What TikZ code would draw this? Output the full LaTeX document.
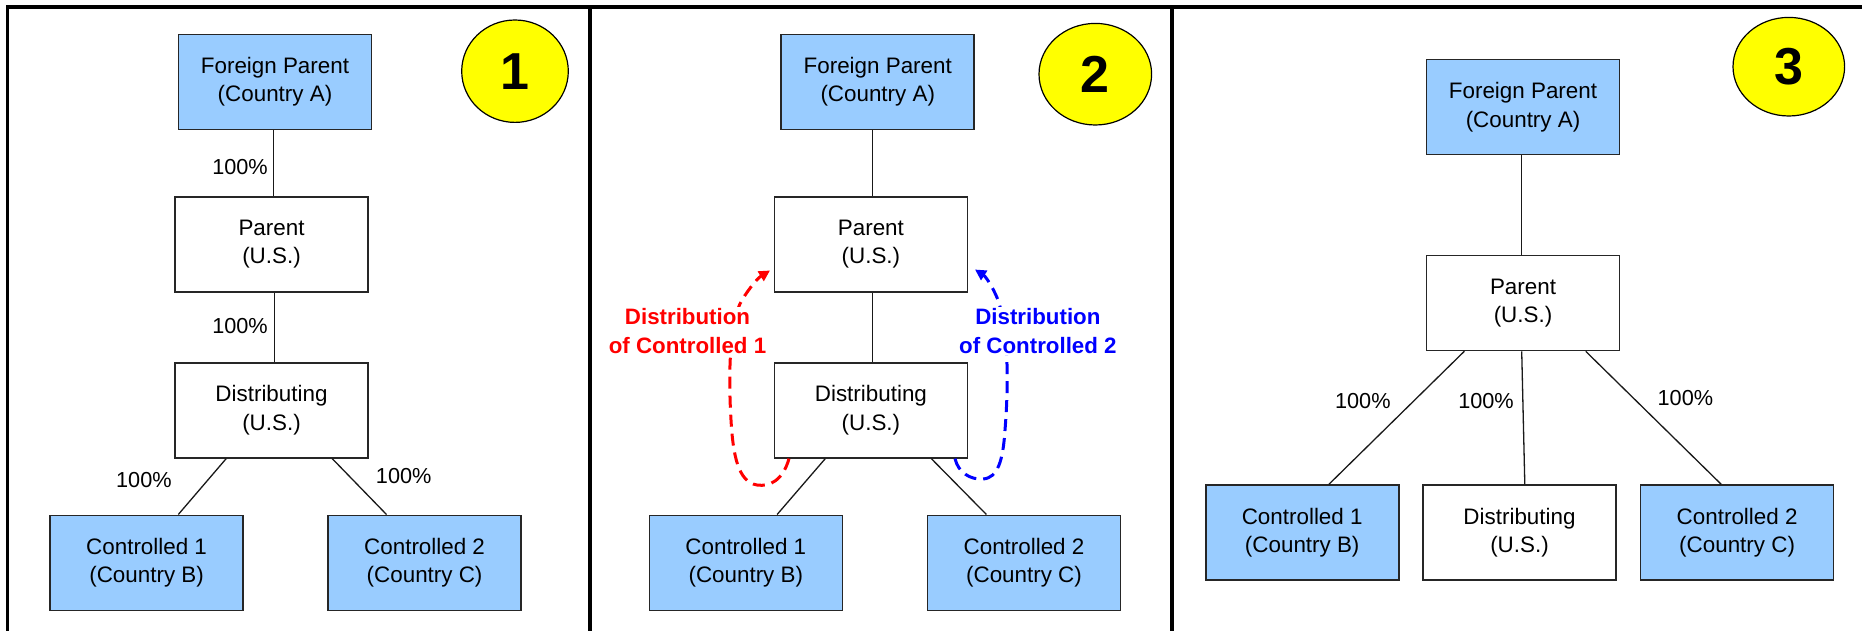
\documentclass[tikz,border=0pt]{standalone}
\usepackage{fontspec}
\setmainfont{Liberation Sans}
\usetikzlibrary{shapes.geometric,arrows.meta}
\definecolor{boxblue}{HTML}{99CCFF}
\definecolor{numyellow}{HTML}{FFFF00}
\definecolor{distred}{HTML}{FF0000}
\definecolor{distblue}{HTML}{0000FF}
\tikzset{
  ent/.style={draw=black!85, line width=1.6pt, minimum width=193pt, minimum height=95pt,
    inner sep=0pt, align=center, font=\fontsize{22.4}{28.2}\selectfont},
  bluebox/.style={ent, fill=boxblue},
  whitebox/.style={ent, fill=white},
  num/.style={ellipse, draw=black, line width=1.2pt, fill=numyellow, inner sep=0pt,
    font=\fontsize{52}{52}\selectfont\bfseries},
  link/.style={line width=1.3pt, black!90},
  pct/.style={font=\fontsize{21.7}{26}\selectfont, inner sep=0pt},
  frame/.style={line width=3.5pt, black},
  distarrow/.style={line width=3pt, dash pattern=on 12pt off 7pt,
    -{Triangle[length=11pt,width=11pt]}},
  distlabel/.style={font=\fontsize{22.3}{29.3}\selectfont\bfseries, align=center,
    fill=white, inner sep=1pt},
}
\begin{document}
\begin{tikzpicture}[x=1pt,y=-1pt]
\useasboundingbox (0,0) rectangle (1862,631);
\fill[white] (0,0) rectangle (1862,631);
% frames
\draw[frame] (7.7,631) -- (7.7,7) -- (1862,7);
\draw[frame] (590,7) -- (590,631);
\draw[frame] (1172,7) -- (1172,631);

% ---------- Panel 1 ----------
\node[bluebox] (fp1) at (275,82) {Foreign Parent\\(Country A)};
\node[whitebox] (p1) at (271.5,244.5) {Parent\\(U.S.)};
\node[whitebox] (d1) at (271.5,410.3) {Distributing\\(U.S.)};
\node[bluebox] (ca1) at (146.6,562.8) {Controlled 1\\(Country B)};
\node[bluebox] (cb1) at (424.6,562.8) {Controlled 2\\(Country C)};
\node[num, minimum width=106.6pt, minimum height=102.4pt] (n1) at (515,71.2) {1};
\draw[link] (fp1.south -| 273.5,0) -- (p1.north -| 273.5,0);
\draw[link] (p1.south -| 274.4,0) -- (d1.north -| 274.4,0);
\coordinate (d1l) at (226.2,458);
\coordinate (d1r) at (332.2,458);
\draw[link] (d1.south -| d1l) -- (ca1.north -| 178.3,0);
\draw[link] (d1.south -| d1r) -- (cb1.north -| 386.5,0);
\node[pct] (l1a) at (240,167) {100\%};
\node[pct] (l1b) at (240,326) {100\%};
\node[pct] (l1c) at (143.9,479.7) {100\%};
\node[pct] (l1d) at (403.7,476) {100\%};

% ---------- Panel 2 ----------
\node[bluebox] (fp2) at (877.75,82) {Foreign Parent\\(Country A)};
\node[whitebox] (p2) at (870.9,244.5) {Parent\\(U.S.)};
\node[whitebox] (d2) at (870.9,410.3) {Distributing\\(U.S.)};
\node[bluebox] (ca2) at (745.8,562.8) {Controlled 1\\(Country B)};
\node[bluebox] (cb2) at (1024,562.8) {Controlled 2\\(Country C)};
\node[num, minimum width=112.6pt, minimum height=101.6pt] (n2) at (1095.3,74.2) {2};
\draw[link] (fp2.south -| 872.8,0) -- (p2.north -| 872.8,0);
\draw[link] (p2.south -| 872.8,0) -- (d2.north -| 872.8,0);
\draw[link] (d2.south -| 825.3,0) -- (ca2.north -| 777.1,0);
\draw[link] (d2.south -| 931.3,0) -- (cb2.north -| 986.4,0);
% distribution arrows
\coordinate (rtip) at (770,270.5);
\coordinate (btip) at (975,269.5);
\draw[distarrow, distred] (d2.south -| 789,0) .. controls (783,480) and (770,487) .. (757,485)
  .. controls (738,482) and (733,455) .. (731,420)
  .. controls (728,370) and (730,320) .. (742,300)
  .. controls (750,287) and (758,278) .. (rtip);
\draw[distarrow, distblue] (d2.south -| 955,0) .. controls (958,472) and (970,480) .. (983,479)
  .. controls (998,478) and (1003,460) .. (1005,430)
  .. controls (1009,380) and (1008,330) .. (998,300)
  .. controls (992,285) and (985,276) .. (btip);
\node[distlabel, text=distred] (t2a) at (687.5,331) {Distribution\\of Controlled 1};
\node[distlabel, text=distblue] (t2b) at (1037.9,331) {Distribution\\of Controlled 2};

% ---------- Panel 3 ----------
\node[bluebox] (fp3) at (1523,107.2) {Foreign Parent\\(Country A)};
\node[whitebox] (p3) at (1523,303) {Parent\\(U.S.)};
\node[bluebox] (ca3) at (1302.2,532.6) {Controlled 1\\(Country B)};
\node[whitebox] (d3) at (1519.5,532.6) {Distributing\\(U.S.)};
\node[bluebox] (cb3) at (1737.1,532.6) {Controlled 2\\(Country C)};
\node[num, minimum width=111.6pt, minimum height=98.6pt] (n3) at (1788.8,66.7) {3};
\draw[link] (fp3.south -| 1521.7,0) -- (p3.north -| 1521.7,0);
\draw[link] (p3.south -| 1464.3,0) -- (ca3.north -| 1328.9,0);
\draw[link] (p3.south -| 1521.7,0) -- (d3.north -| 1524.8,0);
\draw[link] (p3.south -| 1585.7,0) -- (cb3.north -| 1721.2,0);
\node[pct] (l3a) at (1362.8,401.2) {100\%};
\node[pct] (l3b) at (1486,401.2) {100\%};
\node[pct] (l3c) at (1685.4,398.4) {100\%};
\end{tikzpicture}
\end{document}
